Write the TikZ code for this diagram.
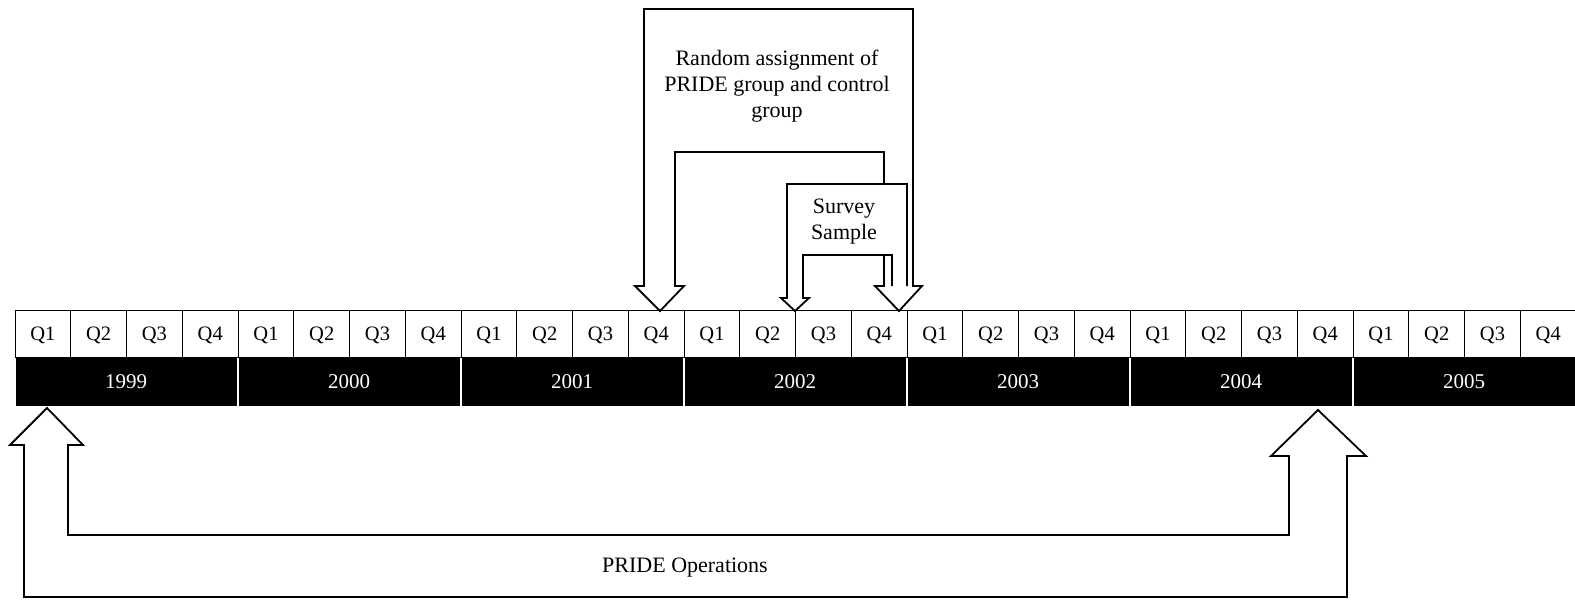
\documentclass[tikz,border=0pt]{standalone}
\usepackage{fontspec}
\setmainfont{Liberation Serif}
\usepackage{tikz}
\usetikzlibrary{positioning}

\tikzset{
  qcell/.style={draw, line width=1.2pt, minimum width=55.75pt, minimum height=47pt,
    inner sep=0pt, text depth=0pt, anchor=north west, font=\fontsize{20.5}{24}\selectfont},
  ycell/.style={fill=black, text=white, minimum width=221pt, minimum height=49pt,
    inner sep=0pt, anchor=north west, font=\fontsize{21}{25}\selectfont},
  barrow/.style={draw, fill=white, line width=1.8pt, line join=miter},
  bline/.style={draw, line width=1.8pt, line join=miter},
  lbl/.style={align=center, font=\fontsize{22}{26}\selectfont}
}

\begin{document}
\begin{tikzpicture}[x=1pt,y=-1pt]
\useasboundingbox (0,0) rectangle (1575,600);
% quarters
\foreach \i in {0,...,27}{
  \pgfmathtruncatemacro{\q}{mod(\i,4)+1}
  \node[qcell] (q\i) at (14.5+55.75*\i,310) {Q\q};
}
% years
\foreach \y [count=\k from 0] in {1999,...,2005}{
  \node[ycell] (y\y) at (15.5+223*\k,357) {\y};
}
% random assignment arrow
\draw[barrow] (660,311) -- (684,286) -- (675,286) -- (675,152) -- (884,152) -- (884,286)
  -- (875,286) -- (899,311) -- (922,286) -- (913,286) -- (913,9) -- (644,9) -- (644,286)
  -- (635,286) -- cycle;
% survey sample arrow
\fill[white] (795,311) -- (809,298) -- (803,298) -- (803,255) -- (892,255) -- (892,286)
  -- (907,286) -- (907,184) -- (787,184) -- (787,298) -- (781,298) -- cycle;
\draw[bline] (892,286) -- (892,255) -- (803,255) -- (803,298) -- (809,298) -- (795,311)
  -- (781,298) -- (787,298) -- (787,184) -- (907,184) -- (907,286);
% operations arrow
\draw[barrow] (47,408) -- (83,445) -- (68,445) -- (68,535) -- (1289,535) -- (1289,456)
  -- (1271,456) -- (1318,410) -- (1366,456) -- (1347,456) -- (1347,597) -- (24,597)
  -- (24,445) -- (10,445) -- cycle;
% labels
\node[lbl] (rand) at (777,86) {Random assignment of\\PRIDE group and control\\group};
\node[lbl] (surv) at (844,222) {Survey\\Sample};
\node[lbl] (ops) at (685,568) {PRIDE Operations};
\end{tikzpicture}
\end{document}
